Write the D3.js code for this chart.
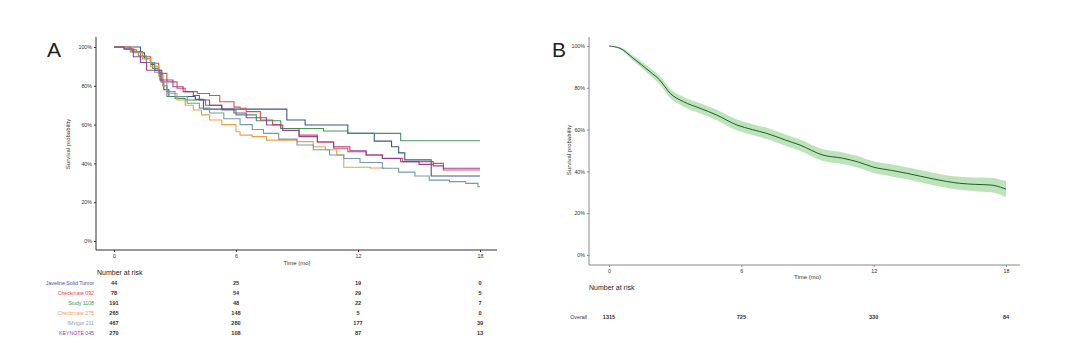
<!DOCTYPE html>
<html>
<head>
<meta charset="utf-8">
<script src="https://cdn.jsdelivr.net/npm/d3@7/dist/d3.min.js"></script>
<style>
  html, body { margin: 0; padding: 0; background: #fff; }
  svg { display: block; font-family: "Liberation Sans", Arial, sans-serif; }
</style>
</head>
<body>
<svg id="chart" width="1080" height="347"></svg>
<script>
// ---------------- DATA ----------------
const timeTicks = [0, 6, 12, 18];
const yTicks = [0, 0.2, 0.4, 0.6, 0.8, 1.0];
const studies = ["Javeline Solid Tumor", "Checkmate 032", "Study 1108", "Checkmate 275", "IMvigor 211", "KEYNOTE 045"];
const studyColors = ["#2f4f86", "#e0443c", "#3f8f52", "#eb9a3c", "#6f93a6", "#94379a"];
const labelColors = ["#3a5aa0", "#e8473f", "#3f9a55", "#f0a04a", "#7f9fae", "#9a3fb0"];

// Kaplan-Meier curves, [month, survival]
const javeline = [[0,1],[1.3,0.97],[1.5,0.94],[1.8,0.91],[2.0,0.88],[2.35,0.82],[2.45,0.78],[2.7,0.745],[4.0,0.73],[4.4,0.68],[8.5,0.624],[9.4,0.598],[11.5,0.555],[12.8,0.515],[13.65,0.486],[14.0,0.454],[14.3,0.418],[15.6,0.335],[18,0.335]];
const checkmate032 = [[0,1],[0.8,0.985],[1.1,0.976],[1.4,0.95],[1.8,0.916],[2.2,0.864],[2.6,0.82],[3.1,0.787],[3.5,0.77],[4.1,0.76],[4.7,0.75],[5.2,0.718],[5.9,0.69],[6.2,0.684],[6.5,0.667],[7.2,0.624],[7.8,0.60],[8.2,0.58],[9.1,0.546],[10.0,0.51],[10.8,0.478],[11.5,0.46],[12.4,0.443],[13.2,0.426],[14.2,0.409],[15.7,0.40],[16.2,0.366],[18,0.366]];
const study1108 = [[0,1],[0.5,0.99],[0.9,0.975],[1.3,0.95],[1.6,0.92],[1.9,0.89],[2.2,0.865],[2.4,0.80],[2.6,0.745],[3.0,0.735],[3.5,0.727],[4.5,0.70],[5.3,0.675],[6.0,0.65],[7.0,0.62],[8.2,0.58],[10.3,0.567],[11.5,0.555],[14.1,0.517],[18,0.517]];
const checkmate275 = [[0,1],[0.6,0.99],[1.0,0.97],[1.4,0.94],[1.8,0.90],[2.2,0.85],[2.4,0.80],[2.6,0.76],[3.1,0.727],[3.5,0.70],[3.9,0.675],[4.3,0.65],[4.7,0.624],[5.3,0.60],[6.0,0.563],[6.2,0.546],[6.8,0.538],[7.5,0.52],[9.0,0.512],[9.8,0.486],[10.4,0.47],[10.95,0.443],[11.3,0.38],[12.6,0.376],[13.3,0.376]];
const imvigor211 = [[0,1],[0.5,0.99],[0.8,0.975],[1.2,0.955],[1.6,0.92],[2.0,0.87],[2.3,0.82],[2.6,0.77],[3.0,0.745],[3.6,0.71],[4.2,0.685],[4.7,0.66],[5.4,0.63],[6.2,0.60],[6.8,0.575],[7.35,0.555],[8.1,0.525],[9.0,0.495],[9.8,0.47],[10.6,0.443],[11.3,0.425],[12.1,0.405],[13.2,0.375],[14.0,0.355],[14.8,0.335],[15.5,0.314],[16.5,0.306],[17.3,0.297],[17.9,0.28],[18,0.28]];
const keynote045 = [[0,1],[0.5,0.99],[0.95,0.95],[1.3,0.92],[1.6,0.88],[2.26,0.83],[2.9,0.795],[3.4,0.77],[3.9,0.75],[4.2,0.727],[4.7,0.70],[5.3,0.68],[5.9,0.66],[6.5,0.635],[7.5,0.598],[8.3,0.57],[9.1,0.538],[10.0,0.51],[10.8,0.486],[11.6,0.465],[12.4,0.443],[13.2,0.425],[14.1,0.409],[15.0,0.395],[15.7,0.387],[16.2,0.375],[18,0.375]];
const curvesA = [javeline, checkmate032, study1108, checkmate275, imvigor211, keynote045];

// Numbers at risk (A) at 0, 6, 12, 18 months
const riskJaveline = [44, 25, 19, 0];
const riskCheckmate032 = [78, 54, 29, 5];
const riskStudy1108 = [191, 48, 22, 7];
const riskCheckmate275 = [265, 148, 5, 0];
const riskImvigor211 = [467, 280, 177, 39];
const riskKeynote045 = [270, 108, 87, 13];
const risksA = [riskJaveline, riskCheckmate032, riskStudy1108, riskCheckmate275, riskImvigor211, riskKeynote045];

// Pooled curve (B)
const overallTime  = [0, 0.5, 1.1, 1.86, 2.3, 2.77, 3.37, 4.13, 4.88, 5.8, 6.5, 7.15, 8.0, 8.66, 9.7, 10.6, 11.3, 12.0, 12.8, 13.5, 14.7, 15.9, 16.6, 17.3, 17.9, 18];
const overallSurv  = [1.0, 0.989, 0.941, 0.877, 0.837, 0.774, 0.734, 0.702, 0.67, 0.622, 0.60, 0.582, 0.55, 0.526, 0.478, 0.463, 0.445, 0.42, 0.405, 0.391, 0.364, 0.343, 0.338, 0.335, 0.319, 0.315];
const overallLower = [1.0, 0.984, 0.929, 0.859, 0.817, 0.752, 0.711, 0.678, 0.645, 0.596, 0.574, 0.555, 0.523, 0.499, 0.45, 0.435, 0.417, 0.392, 0.376, 0.362, 0.334, 0.312, 0.305, 0.30, 0.281, 0.275];
const overallUpper = [1.0, 0.994, 0.953, 0.895, 0.857, 0.796, 0.757, 0.726, 0.695, 0.648, 0.626, 0.609, 0.577, 0.553, 0.506, 0.491, 0.473, 0.448, 0.434, 0.42, 0.394, 0.374, 0.371, 0.37, 0.357, 0.355];
const riskOverall = [1315, 725, 330, 84];

// ---------------- DRAW ----------------
const svg = d3.select("#chart");
svg.append("rect").attr("width", 1080).attr("height", 347).attr("fill", "#fff");
const pct = d3.format(".0%");

function drawAxes(g, x, y, yAxisX, xAxisY, yTop, xRight, axisColor) {
  const ya = g.append("g").attr("transform", `translate(${yAxisX},0)`)
    .call(d3.axisLeft(y).tickValues(yTicks).tickFormat(pct).tickSize(2).tickPadding(2));
  ya.select(".domain").remove();
  ya.selectAll("text").attr("font-size", 5.3).attr("fill", "#333").attr("font-family", "Liberation Sans, Arial, sans-serif");
  ya.selectAll("line").attr("stroke", axisColor);
  const xa = g.append("g").attr("transform", `translate(0,${xAxisY})`)
    .call(d3.axisBottom(x).tickValues(timeTicks).tickSize(2).tickPadding(2));
  xa.select(".domain").remove();
  xa.selectAll("text").attr("font-size", 5.3).attr("fill", "#333").attr("font-family", "Liberation Sans, Arial, sans-serif");
  xa.selectAll("line").attr("stroke", axisColor);
  g.append("line").attr("x1", yAxisX).attr("x2", yAxisX).attr("y1", yTop).attr("y2", xAxisY)
    .attr("stroke", axisColor).attr("stroke-width", 1);
  g.append("line").attr("x1", yAxisX).attr("x2", xRight).attr("y1", xAxisY).attr("y2", xAxisY)
    .attr("stroke", axisColor).attr("stroke-width", 1);
}

// ---- Panel A ----
const gA = svg.append("g");
const xA = d3.scaleLinear().domain([0, 18]).range([114, 480]);
const yA = d3.scaleLinear().domain([0, 1]).range([241, 47]);
drawAxes(gA, xA, yA, 96, 250, 37, 497, "#333");

gA.append("text").attr("x", 47).attr("y", 57).attr("font-size", 21).attr("fill", "#222").text("A");
gA.append("text").attr("transform", "translate(68,144) rotate(-90)").attr("text-anchor", "middle")
  .attr("dominant-baseline", "middle").attr("font-size", 6).attr("fill", "#333").text("Survival probability");
gA.append("text").attr("x", xA(9)).attr("y", 263).attr("text-anchor", "middle")
  .attr("dominant-baseline", "middle").attr("font-size", 6).attr("fill", "#333").text("Time (mo)");

const stepLineA = d3.line().x(d => xA(d[0])).y(d => yA(d[1])).curve(d3.curveStepAfter);
curvesA.forEach((c, i) => {
  gA.append("path").datum(c).attr("d", stepLineA).attr("fill", "none")
    .attr("stroke", studyColors[i]).attr("stroke-width", 1.1).attr("stroke-opacity", 0.95);
});

gA.append("text").attr("x", 97).attr("y", 273).attr("dominant-baseline", "middle")
  .attr("font-size", 7).attr("fill", "#222").text("Number at risk");
risksA.forEach((row, i) => {
  const yy = 284 + i * 10;
  gA.append("text").attr("x", 94).attr("y", yy).attr("text-anchor", "end").attr("dominant-baseline", "middle")
    .attr("font-size", 5.2).attr("fill", labelColors[i]).text(studies[i]);
  row.forEach((v, j) => {
    gA.append("text").attr("x", xA(timeTicks[j])).attr("y", yy).attr("text-anchor", "middle")
      .attr("dominant-baseline", "middle").attr("font-size", 5.6).attr("font-weight", "bold")
      .attr("fill", "#333").text(v);
  });
});

// ---- Panel B ----
const gB = svg.append("g");
const xB = d3.scaleLinear().domain([0, 18]).range([609, 1006]);
const yB = d3.scaleLinear().domain([0, 1]).range([255, 46]);
drawAxes(gB, xB, yB, 589, 265, 37, 1020, "#888");

gB.append("text").attr("x", 552).attr("y", 57).attr("font-size", 21).attr("fill", "#222").text("B");
gB.append("text").attr("transform", "translate(569,150) rotate(-90)").attr("text-anchor", "middle")
  .attr("dominant-baseline", "middle").attr("font-size", 6).attr("fill", "#333").text("Survival probability");
gB.append("text").attr("x", xB(9)).attr("y", 277).attr("text-anchor", "middle")
  .attr("dominant-baseline", "middle").attr("font-size", 6).attr("fill", "#333").text("Time (mo)");

const bandData = overallTime.map((t, i) => ({ t, s: overallSurv[i], lo: overallLower[i], hi: overallUpper[i] }));
gB.append("path").datum(bandData)
  .attr("d", d3.area().x(d => xB(d.t)).y0(d => yB(d.lo)).y1(d => yB(d.hi)).curve(d3.curveMonotoneX))
  .attr("fill", "#8fd08a").attr("fill-opacity", 0.6).attr("stroke", "none");
gB.append("path").datum(bandData)
  .attr("d", d3.line().x(d => xB(d.t)).y(d => yB(d.s)).curve(d3.curveMonotoneX))
  .attr("fill", "none").attr("stroke", "#1f5e2a").attr("stroke-width", 1);

gB.append("text").attr("x", 589).attr("y", 288).attr("dominant-baseline", "middle")
  .attr("font-size", 7).attr("fill", "#222").text("Number at risk");
gB.append("text").attr("x", 587).attr("y", 318).attr("text-anchor", "end").attr("dominant-baseline", "middle")
  .attr("font-size", 5.3).attr("fill", "#333").text("Overall");
riskOverall.forEach((v, j) => {
  gB.append("text").attr("x", xB(timeTicks[j])).attr("y", 318).attr("text-anchor", "middle")
    .attr("dominant-baseline", "middle").attr("font-size", 5.6).attr("font-weight", "bold")
    .attr("fill", "#333").text(v);
});
</script>
</body>
</html>
